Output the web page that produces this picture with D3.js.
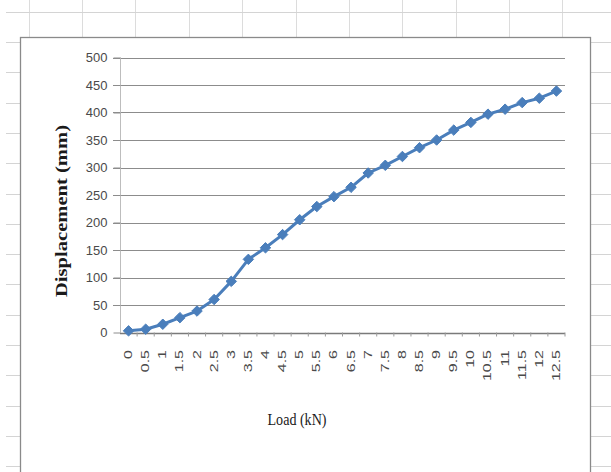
<!DOCTYPE html>
<html><head><meta charset="utf-8">
<script src="https://cdn.jsdelivr.net/npm/d3@7"></script>
<style>html,body{margin:0;padding:0;background:#fff;}svg{display:block;}</style>
</head><body>
<svg id="c" width="611" height="472"></svg>
<script>
const categories = ["0","0.5","1","1.5","2","2.5","3","3.5","4","4.5","5","5.5","6","6.5","7","7.5","8","8.5","9","9.5","10","10.5","11","11.5","12","12.5"];
const displacement = [3,6,15,27,39,60,93,133,154,178,205,229,247,264,290,304,320,336,350,368,382,397,406,418,426,439];
const yTicks = [0,50,100,150,200,250,300,350,400,450,500];
const xTitle = "Load (kN)";
const yTitle = "Displacement (mm)";

const svg = d3.select("#c");
const W = 611, H = 472;

// spreadsheet background cells
const bg = svg.append("g");
for (let x = 28.5; x < W; x += 53.4) bg.append("line").attr("x1", Math.round(x)+0.5).attr("x2", Math.round(x)+0.5).attr("y1", 0).attr("y2", H).attr("stroke", "#dcdcdc");
for (let y = 11.7; y < H; y += 30.3) bg.append("line").attr("x1", 6).attr("x2", W).attr("y1", Math.round(y)+0.5).attr("y2", Math.round(y)+0.5).attr("stroke", "#d4d4d4");

// chart box
svg.append("rect").attr("x", 20.5).attr("y", 37.5).attr("width", 570).attr("height", 460)
  .attr("fill", "#fff").attr("stroke", "#8a8a8a").attr("stroke-width", 1.3);

const x = d3.scaleBand().domain(categories).range([120, 565]);
const y = d3.scaleLinear().domain([0, 500]).range([332.5, 57.5]);

// gridlines
svg.append("g").selectAll("line").data(yTicks.filter(d => d > 0)).join("line")
  .attr("x1", 113).attr("x2", 565)
  .attr("y1", d => Math.round(y(d)) + 0.5).attr("y2", d => Math.round(y(d)) + 0.5)
  .attr("stroke", "#8c8c8c").attr("stroke-width", 1.2);

// y axis
const yAxis = svg.append("g").attr("transform", "translate(120.5,0)")
  .call(d3.axisLeft(y).tickValues(yTicks).tickSize(7).tickPadding(6).tickFormat(d3.format("d")));
yAxis.select(".domain").attr("stroke", "#bdbdbd").attr("d", `M0,${y(500)}V${y(0)}`);
yAxis.selectAll(".tick line").attr("stroke", "#8c8c8c");
yAxis.selectAll(".tick text").attr("font-family", "'Liberation Sans Narrow', 'Liberation Sans', sans-serif")
  .attr("font-size", 13).attr("fill", "#4a4a4a");

// x axis
const xAxis = svg.append("g").attr("transform", `translate(0,${Math.round(y(0)) + 0.5})`)
  .call(d3.axisBottom(x).tickSize(0).tickFormat(""));
xAxis.select(".domain").attr("stroke", "#7a7a7a").attr("stroke-width", 1.3).attr("d", "M120,0H565");
xAxis.selectAll(".tick").remove();
// category boundary ticks
svg.append("g").selectAll("line").data(categories).join("line")
  .attr("x1", d => x(d) + x.bandwidth()).attr("x2", d => x(d) + x.bandwidth())
  .attr("y1", y(0)).attr("y2", y(0) + 4).attr("stroke", "#9a9a9a");
// rotated category labels
svg.append("g").selectAll("text").data(categories).join("text")
  .attr("transform", d => `translate(${x(d) + x.bandwidth() / 2},350) rotate(-90) scale(1.6,1)`)
  .attr("text-anchor", "end").attr("dy", "0.35em")
  .attr("font-family", "'Liberation Sans', Arial, sans-serif").attr("font-size", 10).attr("fill", "#4a4a4a")
  .text(d => d);

// line
const cx = d => x(d) + x.bandwidth() / 2;
svg.append("path").datum(categories.map((c, i) => [cx(c), y(displacement[i])]))
  .attr("d", d3.line()).attr("fill", "none").attr("stroke", "#4a7ebb").attr("stroke-width", 3)
  .attr("stroke-linejoin", "round");
svg.append("g").selectAll("path").data(categories).join("path")
  .attr("transform", (c, i) => `translate(${cx(c)},${y(displacement[i])})`)
  .attr("d", d3.symbol(d3.symbolDiamond2, 70)).attr("fill", "#4a7ebb").attr("stroke", "#4a7ebb").attr("stroke-width", 1);

// titles
svg.append("text").attr("transform", "translate(67,211) rotate(-90)")
  .attr("text-anchor", "middle").attr("font-family", "'Liberation Serif', 'Times New Roman', serif")
  .attr("font-weight", "bold").attr("font-size", 16).attr("fill", "#1a1a1a")
  .attr("textLength", 172).attr("lengthAdjust", "spacingAndGlyphs").text(yTitle);
svg.append("text").attr("x", 297).attr("y", 425)
  .attr("text-anchor", "middle").attr("font-family", "'Liberation Serif', 'Times New Roman', serif")
  .attr("font-size", 17).attr("fill", "#1a1a1a")
  .attr("textLength", 59).attr("lengthAdjust", "spacingAndGlyphs").text(xTitle);
</script>
</body></html>
